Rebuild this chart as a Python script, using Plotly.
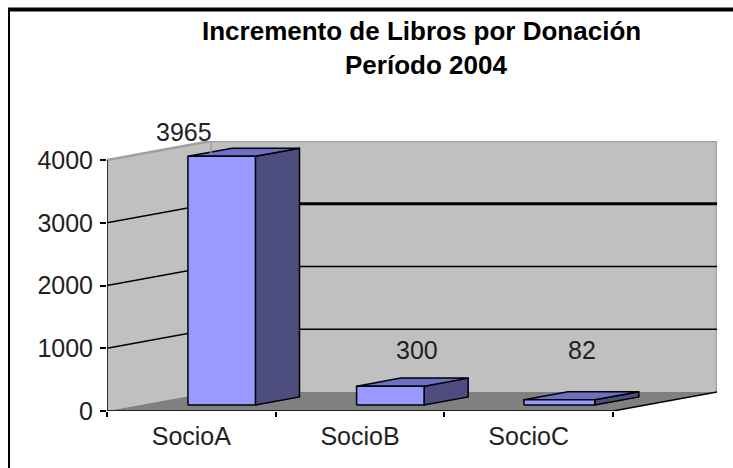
import plotly.graph_objects as go

categories = ["SocioA", "SocioB", "SocioC"]
values = [3965, 300, 82]
y_ticks = [0, 1000, 2000, 3000, 4000]
title_lines = ["Incremento de Libros por Donación", "Período 2004"]

# Layout (pixels) and projection of the fake 3-D box
W, H = 733, 468
L, R, T, B = 107, 717, 141, 411
Y_MAX = 4000
BAND = 168.67
DEPTH_X = (R - L) / BAND - len(categories)
DEPTH_Y = 19 / 251 * Y_MAX
BAR_LEFT = [0.285, 0.285, 0.277]
BAR_W = [0.40, 0.40, 0.42]
D0, D1 = 0.316, 0.74
LABEL_PX = [(184, 132), (417, 350), (582, 350)]
TITLE_PX = [(421, 31), (426, 65)]

WALL, FLOOR, FRONT, SIDE, TOP = "#C0C0C0", "#808080", "#9999FF", "#4D4D80", "#6E6EC4"
EDGE = "#A0A0A0"
FONT = "Liberation Sans"


def P(x, y, d=0.0):
    return x + d * DEPTH_X, y + d * DEPTH_Y


def px(v):
    return (v - L) / (R - L)


def py(v):
    return (B - v) / (B - T)


fig = go.Figure()


def poly(points, fill=None, color="black", width=1.5):
    xs = [p[0] for p in points]
    ys = [p[1] for p in points]
    fig.add_trace(go.Scatter(
        x=xs, y=ys, mode="lines", fill="toself" if fill else None,
        fillcolor=fill, line=dict(color=color if width else fill, width=width or 0),
        hoverinfo="skip", showlegend=False, cliponaxis=False))


n = len(categories)
# Back wall, side wall, floor
poly([P(0, 0, 1), P(n, 0, 1), P(n, Y_MAX, 1), P(0, Y_MAX, 1), P(0, 0, 1)], WALL, WALL, 0)
poly([P(0, 0), P(0, Y_MAX), P(0, Y_MAX, 1), P(0, 0, 1), P(0, 0)], WALL, WALL, 0)
poly([P(0, 0), P(n, 0), P(n, 0, 1), P(0, 0, 1), P(0, 0)], FLOOR, FLOOR, 0)
# Wall edges
poly([P(0, Y_MAX), P(0, Y_MAX, 1), P(n, Y_MAX, 1), P(n, 0, 1)], None, EDGE, 2.5)
# Grid lines
for v in y_ticks[1:-1]:
    poly([P(0, v), P(0, v, 1)], None, "black", 1.5)
    poly([P(0, v, 1), P(n, v, 1)], None, "black", 3 if v == 3000 else 1.5)
# Box axes
poly([P(0, Y_MAX), P(0, 0), P(n, 0), P(n, 0, 1)], None, "black", 1.5)

# Bars
for i, v in enumerate(values):
    x0 = i + BAR_LEFT[i]
    x1 = x0 + BAR_W[i]
    poly([P(x1, 0, D0), P(x1, 0, D1), P(x1, v, D1), P(x1, v, D0), P(x1, 0, D0)], SIDE)
    poly([P(x0, v, D0), P(x1, v, D0), P(x1, v, D1), P(x0, v, D1), P(x0, v, D0)], TOP)
    poly([P(x0, 0, D0), P(x1, 0, D0), P(x1, v, D0), P(x0, v, D0), P(x0, 0, D0)], FRONT)

# Leader line of the first label
poly([P(0, Y_MAX, 1), (DEPTH_X, values[0] + D0 * DEPTH_Y + 30)], None, EDGE, 1.5)

annotations = []
for v, (lx, ly) in zip(values, LABEL_PX):
    annotations.append(dict(x=px(lx), y=py(ly), xref="paper", yref="paper", text=str(v),
                            xanchor="center", yanchor="middle", showarrow=False,
                            font=dict(family=FONT, size=25, color="#222222")))
for line, (tx, ty) in zip(title_lines, TITLE_PX):
    annotations.append(dict(x=px(tx), y=py(ty), xref="paper", yref="paper",
                            text=f"<b>{line}</b>", showarrow=False,
                            xanchor="center", yanchor="middle",
                            font=dict(family=FONT, size=26, color="black")))

shapes = [
    dict(type="line", xref="paper", yref="paper", x0=px(9), x1=px(9), y0=py(8), y1=py(H),
         line=dict(color="black", width=2)),
    dict(type="line", xref="paper", yref="paper", x0=px(8), x1=px(W), y0=py(9.5), y1=py(9.5),
         line=dict(color="black", width=4)),
]

fig.update_layout(
    width=W, height=H, autosize=False,
    margin=dict(l=L, r=W - R, t=T, b=H - B, pad=0),
    paper_bgcolor="white", plot_bgcolor="rgba(0,0,0,0)",
    showlegend=False, annotations=annotations, shapes=shapes,
    xaxis=dict(range=[0, n + DEPTH_X], tickmode="array",
               tickvals=[i + 0.5 for i in range(n)], ticktext=categories,
               ticks="", showgrid=False, zeroline=False, showline=False,
               ticklabelstandoff=8,
               tickfont=dict(family=FONT, size=25, color="#222222"),
               minor=dict(tickmode="array", tickvals=list(range(n + 1)), ticks="outside",
                          ticklen=5, tickcolor="black", tickwidth=1.5, showgrid=False)),
    yaxis=dict(range=[0, Y_MAX + DEPTH_Y], tickmode="array", tickvals=y_ticks,
               ticktext=[str(t) for t in y_ticks],
               ticks="outside", ticklen=6, tickcolor="black", tickwidth=1.5,
               showgrid=False, zeroline=False, showline=False, ticklabelstandoff=2,
               tickfont=dict(family=FONT, size=25, color="#222222")),
)

fig.write_html("out.html", config={"displayModeBar": False},
               post_script="document.body.style.margin='0';")
